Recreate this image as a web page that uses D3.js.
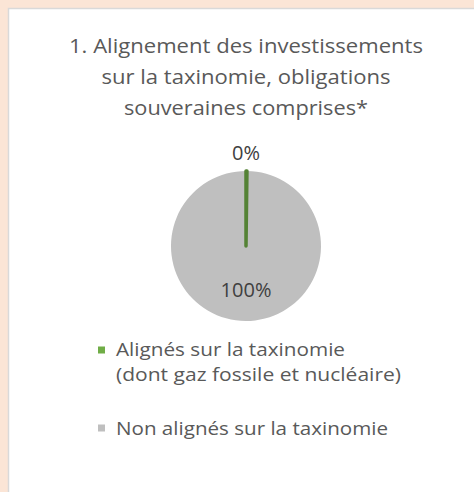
<!DOCTYPE html>
<html><head><meta charset="utf-8">
<script src="https://cdn.jsdelivr.net/npm/d3@7"></script>
<style>html,body{margin:0;padding:0;background:#fbe5d6;}svg{display:block;}</style>
</head><body>
<svg id="c" width="474" height="492"></svg>
<script>
const titleLines = ["1. Alignement des investissements", "sur la taxinomie, obligations", "souveraines comprises*"];
const categories = ["Alignés sur la taxinomie|(dont gaz fossile et nucléaire)", "Non alignés sur la taxinomie"];
const values = [0.2, 99.8];
const labels = ["0%", "100%"];
const colors = ["#70ad47", "#bfbfbf"];

const titleWidths = [354, 289, 244];
const legendWidths = [[229, 285], [272]];

const svg = d3.select("#c");
const font = "'Open Sans', sans-serif";
const fs = 20;
const lfs = 18.3;
svg.append("rect").attr("x", 8.5).attr("y", 8.5).attr("width", 480).attr("height", 500)
  .attr("fill", "#fff").attr("stroke", "#d9d9d9").attr("stroke-width", 1.5);

const cx = 246, cy = 246, r = 75;
svg.append("g").selectAll("text").data(titleLines).join("text")
  .attr("x", cx).attr("y", (d, i) => 53 + i * 31)
  .attr("text-anchor", "middle").attr("font-family", font).attr("font-size", fs)
  .attr("textLength", (d, i) => titleWidths[i]).attr("lengthAdjust", "spacingAndGlyphs")
  .attr("fill", "#595959").text(d => d);

const pie = d3.pie().sort(null).value(d => d)(values);
const arc = d3.arc().innerRadius(0).outerRadius(r);
const g = svg.append("g").attr("transform", `translate(${cx},${cy})`);
g.selectAll("path").data(pie).join("path")
  .attr("d", arc)
  .attr("fill", (d, i) => colors[i]);
g.append("path").attr("d", arc(pie[0])).attr("fill", "#548235").attr("stroke", "#548235")
  .attr("stroke-width", 3.5).attr("stroke-linejoin", "round");

svg.append("text").attr("x", cx).attr("y", 160).attr("text-anchor", "middle")
  .attr("font-family", font).attr("font-size", fs).attr("fill", "#404040").text(labels[0]);
svg.append("text").attr("x", cx).attr("y", 297).attr("text-anchor", "middle")
  .attr("font-family", font).attr("font-size", fs).attr("fill", "#404040").text(labels[1]);

const legY = [355.5, 435];
const sqY = [350, 428];
categories.forEach((c, i) => {
  const lg = svg.append("g");
  lg.append("rect").attr("x", 98).attr("y", sqY[i] - 3.5).attr("width", 7).attr("height", 7).attr("fill", colors[i]);
  const t = lg.append("text").attr("font-family", font).attr("font-size", lfs).attr("fill", "#595959");
  c.split("|").forEach((s, j) => {
    t.append("tspan").attr("x", 116).attr("y", legY[i] + j * 25)
      .attr("textLength", legendWidths[i][j]).attr("lengthAdjust", "spacingAndGlyphs")
      .text(s);
  });
});
</script>
</body></html>
